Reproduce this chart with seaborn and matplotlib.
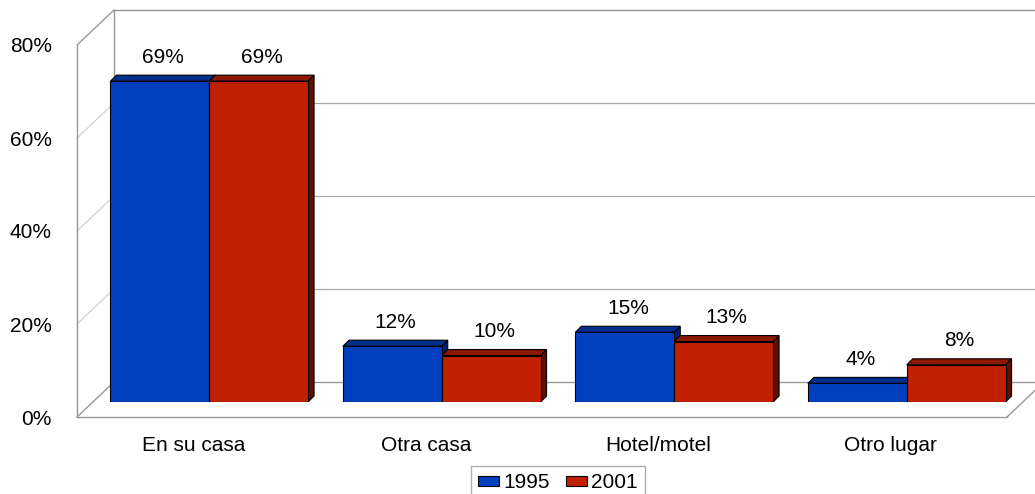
import matplotlib
matplotlib.use('Agg')
import matplotlib.pyplot as plt
from matplotlib.patches import Polygon, Patch
import seaborn as sns
import pandas as pd

# data
lugares = ['En su casa', 'Otra casa', 'Hotel/motel', 'Otro lugar']
anios = ['1995', '2001']
valores_1995 = [69, 12, 15, 4]
valores_2001 = [69, 10, 13, 8]
yticks = [0, 20, 40, 60, 80]

colores = {'1995': '#0040BF', '2001': '#C02000'}
tapa = {'1995': '#00308C', '2001': '#8C1800'}
lado = {'1995': '#002070', '2001': '#5C1000'}

# geometry of the fake 3d box, in pixels from the top-left corner
W, H = 1035, 494
F_LEFT, F_RIGHT, F_TOP, F_BOTTOM = 77, 1007, 45, 417
DEPTH = (37, -35)
BAR_SHIFT = (16, -15)
BAR_DEPTH = 6
GRIS = '#999999'


def fig_rect(left, right, top, bottom):
    return [left / W, 1 - bottom / H, (right - left) / W, (bottom - top) / H]


df = pd.DataFrame({
    'lugar': lugares * 2,
    'anio': [anios[0]] * 4 + [anios[1]] * 4,
    'valor': valores_1995 + valores_2001,
})

sns.set_style('white')
plt.rcParams['font.family'] = ['Liberation Sans', 'DejaVu Sans']
plt.rcParams['text.color'] = 'black'
plt.rcParams['xtick.color'] = 'black'
plt.rcParams['ytick.color'] = 'black'

fig = plt.figure(figsize=(W / 100, H / 100), dpi=100)

# back wall
ax_back = fig.add_axes(fig_rect(F_LEFT + DEPTH[0], F_RIGHT + DEPTH[0],
                                F_TOP + DEPTH[1], F_BOTTOM + DEPTH[1]))
ax_back.set_ylim(0, 80)
ax_back.set_xlim(0, 1)
ax_back.set_xticks([])
ax_back.set_yticks(yticks[1:-1])
ax_back.tick_params(length=0, labelleft=False)
ax_back.grid(axis='y', color='#a8a8a8', linewidth=0.9)
for s in ax_back.spines.values():
    s.set_color(GRIS)
    s.set_linewidth(1.0)
ax_back.set_zorder(0)

# side wall diagonals and floor edge
ax_bg = fig.add_axes([0, 0, 1, 1])
ax_bg.set_xlim(0, W)
ax_bg.set_ylim(H, 0)
ax_bg.axis('off')
ax_bg.patch.set_alpha(0)
escala = (F_BOTTOM - F_TOP) / 80
for v in yticks:
    yf = F_BOTTOM - v * escala
    c = GRIS if v in (0, 80) else '#d4d4d4'
    ax_bg.plot([F_LEFT, F_LEFT + DEPTH[0]], [yf, yf + DEPTH[1]], color=c, lw=1.0)
ax_bg.plot([F_RIGHT, F_RIGHT + DEPTH[0]], [F_BOTTOM, F_BOTTOM + DEPTH[1]],
           color=GRIS, lw=1.0)
ax_bg.set_zorder(1)

# front axes: only ticks and labels
ax_front = fig.add_axes(fig_rect(F_LEFT, F_RIGHT, F_TOP, F_BOTTOM))
ax_front.patch.set_alpha(0)
ax_front.set_ylim(0, 80)
ax_front.set_xlim(-0.5, len(lugares) - 0.5)
ax_front.set_yticks(yticks)
ax_front.set_yticklabels([f'{v}%' for v in yticks])
ax_front.set_xticks(range(len(lugares)))
ax_front.set_xticklabels(lugares)
ax_front.tick_params(axis='y', length=0, pad=18, labelsize=15)
ax_front.tick_params(axis='x', length=0, pad=14, labelsize=15)
for k in ['top', 'right']:
    ax_front.spines[k].set_visible(False)
for k in ['left', 'bottom']:
    ax_front.spines[k].set_color(GRIS)
    ax_front.spines[k].set_linewidth(1.0)
ax_front.set_zorder(2)

# bars
ax = fig.add_axes(fig_rect(F_LEFT + BAR_SHIFT[0], F_RIGHT + BAR_SHIFT[0],
                           F_TOP + BAR_SHIFT[1], F_BOTTOM + BAR_SHIFT[1]))
ax.patch.set_alpha(0)
sns.barplot(data=df, x='lugar', y='valor', hue='anio', order=lugares,
            hue_order=anios, palette=colores, saturation=1, width=0.85, gap=0,
            edgecolor='black', linewidth=0.8, legend=False, ax=ax)
ax.set_ylim(0, 80)
ax.set_xlim(-0.5, len(lugares) - 0.5)
ax.axis('off')
ax.set_zorder(3)

px_x = (F_RIGHT - F_LEFT) / len(lugares)
ddx = BAR_DEPTH / px_x
ddy = BAR_DEPTH / escala

barras = []
for anio, cont in zip(anios, ax.containers):
    for p in cont.patches:
        barras.append((anio, p))

# sides first, then tops, fronts stay on top
for anio, p in barras:
    x0, w, h = p.get_x(), p.get_width(), p.get_height()
    ax.add_patch(Polygon([(x0 + w, 0), (x0 + w + ddx, ddy),
                          (x0 + w + ddx, h + ddy), (x0 + w, h)],
                         closed=True, facecolor=lado[anio], edgecolor='black',
                         linewidth=0.8, zorder=1))
for anio, p in barras:
    x0, w, h = p.get_x(), p.get_width(), p.get_height()
    ax.add_patch(Polygon([(x0, h), (x0 + ddx, h + ddy),
                          (x0 + w + ddx, h + ddy), (x0 + w, h)],
                         closed=True, facecolor=tapa[anio], edgecolor='black',
                         linewidth=0.8, zorder=1.5))
for anio, p in barras:
    p.set_zorder(2)
    ax.annotate(f'{p.get_height():.0f}%',
                (p.get_x() + p.get_width() / 2, p.get_height()),
                xytext=(2.2, 17.3), textcoords='offset points',
                ha='center', va='center', fontsize=15)

handles = [Patch(facecolor=colores[a], edgecolor='black', linewidth=0.8, label=a)
           for a in anios]
leg = fig.legend(handles=handles, loc='upper center', ncol=2,
                 bbox_to_anchor=(558 / W, 1 - 466 / H), fontsize=15,
                 frameon=True, fancybox=False, handlelength=1.0,
                 handleheight=0.4, handletextpad=0.2, columnspacing=0.8,
                 borderpad=0.35, borderaxespad=0)
leg.get_frame().set_edgecolor(GRIS)
leg.get_frame().set_linewidth(1.0)

fig.savefig('out.png', dpi=100)
